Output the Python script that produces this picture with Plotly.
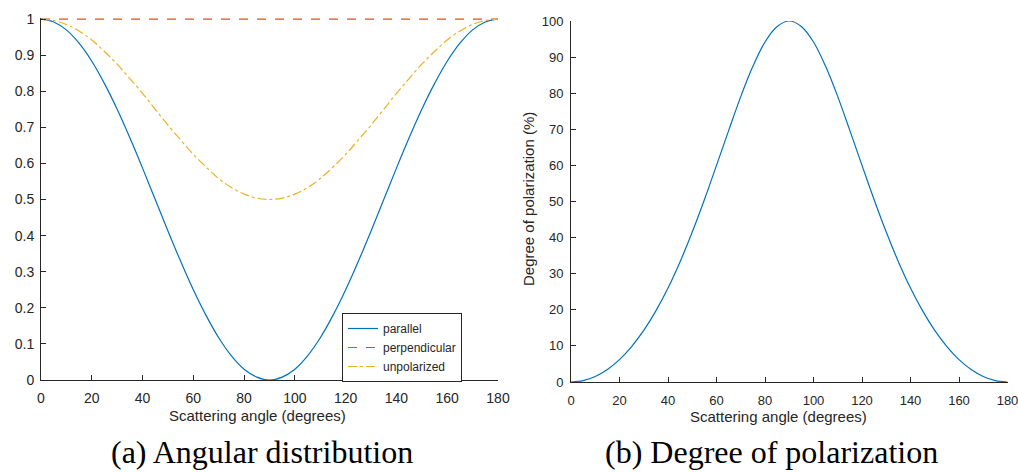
import plotly.graph_objects as go

angle = [0, 5, 10, 15, 20, 25, 30, 35, 40, 45, 50, 55, 60, 65, 70, 75, 80, 85, 90,
         95, 100, 105, 110, 115, 120, 125, 130, 135, 140, 145, 150, 155, 160, 165, 170, 175, 180]

parallel = [1.000, 0.992, 0.970, 0.933, 0.883, 0.821, 0.750, 0.671, 0.587, 0.500,
            0.413, 0.329, 0.250, 0.179, 0.117, 0.067, 0.030, 0.008, 0.000,
            0.008, 0.030, 0.067, 0.117, 0.179, 0.250, 0.329, 0.413, 0.500,
            0.587, 0.671, 0.750, 0.821, 0.883, 0.933, 0.970, 0.992, 1.000]

perpendicular = [1.0] * 37

unpolarized = [1.000, 0.996, 0.985, 0.967, 0.942, 0.910, 0.875, 0.835, 0.794, 0.750,
               0.706, 0.665, 0.625, 0.590, 0.558, 0.533, 0.515, 0.504, 0.500,
               0.504, 0.515, 0.533, 0.558, 0.590, 0.625, 0.665, 0.706, 0.750,
               0.794, 0.835, 0.875, 0.910, 0.942, 0.967, 0.985, 0.996, 1.000]

polarization = [0.0, 0.38, 1.53, 3.47, 6.21, 9.83, 14.29, 19.69, 26.02, 33.33,
                41.54, 50.49, 60.00, 69.64, 79.05, 87.44, 94.17, 98.47, 100.0,
                98.47, 94.17, 87.44, 79.05, 69.64, 60.00, 50.49, 41.54, 33.33,
                26.02, 19.69, 14.29, 9.83, 6.21, 3.47, 1.53, 0.38, 0.0]

x_ticks = [0, 20, 40, 60, 80, 100, 120, 140, 160, 180]
y1_ticks = [0, 0.1, 0.2, 0.3, 0.4, 0.5, 0.6, 0.7, 0.8, 0.9, 1]
y2_ticks = [0, 10, 20, 30, 40, 50, 60, 70, 80, 90, 100]

captions = ["(a) Angular distribution", "(b) Degree of polarization"]
x_title = "Scattering angle (degrees)"
y2_title = "Degree of polarization (%)"

BLUE = "#0072BD"
ORANGE = "#D95319"
YELLOW = "#EDB120"
AX = "#262626"
FONT = "Liberation Sans, Arial, sans-serif"
SERIF = "Liberation Serif, Times New Roman, serif"
W, H = 1018, 472

fig = go.Figure()
fig.add_trace(go.Scatter(x=angle, y=parallel, name="parallel", mode="lines",
                         line=dict(color=BLUE, width=1.2, shape="spline"), xaxis="x", yaxis="y"))
fig.add_trace(go.Scatter(x=angle, y=perpendicular, name="perpendicular", mode="lines",
                         line=dict(color=ORANGE, width=1.2, dash="dash"), xaxis="x", yaxis="y"))
fig.add_trace(go.Scatter(x=angle, y=unpolarized, name="unpolarized", mode="lines",
                         line=dict(color=YELLOW, width=1.2, dash="dashdot", shape="spline"), xaxis="x", yaxis="y"))
fig.add_trace(go.Scatter(x=angle, y=polarization, name="polarization", mode="lines", showlegend=False,
                         line=dict(color=BLUE, width=1.2, shape="spline"), xaxis="x2", yaxis="y2"))


def axis_style(size):
    return dict(showline=True, linecolor=AX, linewidth=1, ticks="inside", ticklen=5,
                tickcolor=AX, showgrid=False, zeroline=False, mirror=False, automargin=False,
                ticklabeloverflow="allow",
                tickfont=dict(family=FONT, size=size, color=AX))


fig.update_layout(
    width=W, height=H,
    margin=dict(l=0, r=0, t=0, b=0),
    paper_bgcolor="white", plot_bgcolor="white",
    font=dict(family=FONT, size=13, color=AX),
    xaxis=dict(domain=[41 / W, 498 / W], range=[0, 180], tickvals=x_ticks, anchor="y",
               ticklabelstandoff=5, **axis_style(14)),
    yaxis=dict(domain=[(H - 380) / H, (H - 17.6) / H], range=[0, 1.004], tickvals=y1_ticks, anchor="x",
               ticklabelstandoff=3, **axis_style(14)),
    xaxis2=dict(domain=[571 / W, 1007.5 / W], range=[0, 180], tickvals=x_ticks, anchor="y2",
                ticklabelstandoff=6, **axis_style(13)),
    yaxis2=dict(domain=[(H - 382) / H, (H - 21) / H], range=[0, 100], tickvals=y2_ticks, anchor="x2",
                ticklabelstandoff=4, **axis_style(13)),
    legend=dict(x=342 / W, y=(H - 313) / H, xanchor="left", yanchor="top", bgcolor="white",
                bordercolor=AX, borderwidth=1, font=dict(family=FONT, size=12, color=AX),
                tracegroupgap=0),
    showlegend=True,
)

# axis titles
fig.add_annotation(text=x_title, x=257 / W, y=(H - 415) / H, xref="paper", yref="paper",
                   xanchor="center", yanchor="middle", showarrow=False,
                   font=dict(family=FONT, size=15, color=AX))
fig.add_annotation(text=x_title, x=778 / W, y=(H - 416) / H, xref="paper", yref="paper",
                   xanchor="center", yanchor="middle", showarrow=False,
                   font=dict(family=FONT, size=15, color=AX))
fig.add_annotation(text=y2_title, x=528 / W, y=(H - 199) / H, xref="paper", yref="paper",
                   xanchor="center", yanchor="middle", showarrow=False, textangle=-90,
                   font=dict(family=FONT, size=15, color=AX))

# captions
cap_y = (H - 452) / H
fig.add_annotation(text=captions[0], x=262 / W, y=cap_y, xref="paper", yref="paper",
                   xanchor="center", yanchor="middle", showarrow=False,
                   font=dict(family=SERIF, size=32, color="black"))
fig.add_annotation(text=captions[1], x=771 / W, y=cap_y, xref="paper", yref="paper",
                   xanchor="center", yanchor="middle", showarrow=False,
                   font=dict(family=SERIF, size=32, color="black"))

fig.write_html("out.html")
